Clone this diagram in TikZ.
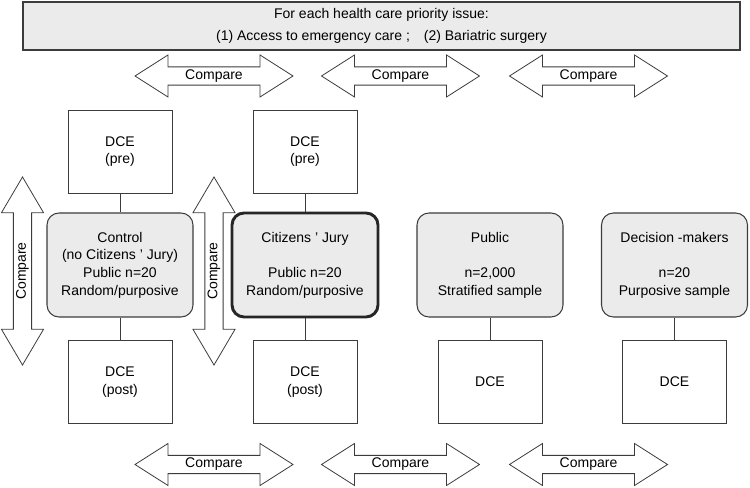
\documentclass[tikz,border=0pt]{standalone}
\usepackage{fontspec}
\setmainfont{Liberation Sans}
\usetikzlibrary{shapes.arrows}
\definecolor{linegray}{RGB}{60,60,60}
\definecolor{boxgray}{RGB}{235,235,235}
\begin{document}
\begin{tikzpicture}[x=0.75pt,y=0.75pt,yscale=-1,xscale=1,
  every node/.style={font=\fontsize{10.5}{13.2}\selectfont, align=center},
  dcebox/.style={draw=linegray, line width=0.7pt, fill=white, minimum width=78pt, minimum height=62.25pt, inner sep=0pt},
  groupbox/.style={draw=linegray, line width=0.8pt, fill=boxgray, rounded corners=9pt, minimum width=109.5pt, minimum height=78pt, inner sep=0pt},
  cmparrow/.style={shape=double arrow, draw=linegray, line width=0.6pt, fill=white, minimum height=118.5pt, minimum width=31.5pt, double arrow head extend=7.875pt, double arrow tip angle=65, inner sep=1pt},
  conn/.style={draw=linegray, line width=0.7pt}]
\useasboundingbox (0,0) rectangle (750,488);

% header
\node [draw=linegray, line width=0.8pt, fill=boxgray, minimum width=537.75pt, minimum height=36pt, inner sep=0pt, font=\fontsize{10.5}{16}\selectfont] (issue) at (381.5,26) {For each health care priority issue:\\(1) Access to emergency care ;\quad(2) Bariatric surgery};

% compare arrows, top and bottom
\node [cmparrow] (cmpt1) at (214,76) {Compare};
\node [cmparrow] (cmpt2) at (400.5,76) {Compare};
\node [cmparrow] (cmpt3) at (588.5,76) {Compare};
\node [cmparrow] (cmpb1) at (214,464.5) {Compare};
\node [cmparrow] (cmpb2) at (400.5,464.5) {Compare};
\node [cmparrow] (cmpb3) at (588.5,464.5) {Compare};

% compare arrows, vertical
\node [cmparrow, rotate=90, minimum height=141pt, double arrow tip angle=61] (cmpv1) at (22.5,271) {Compare};
\node [cmparrow, rotate=90, minimum height=141pt, double arrow tip angle=61] (cmpv2) at (214,271) {Compare};

% groups
\node [groupbox] (control) at (120,265) {Control\\(no Citizens ' Jury)\\Public n=20\\Random/purposive};
\node [groupbox, draw=black!85, line width=2.2pt] (jury) at (305,265) {Citizens ' Jury\\[13.2pt]Public n=20\\Random/purposive};
\node [groupbox] (public) at (490,265) {Public\\[13.2pt]n=2,000\\Stratified sample};
\node [groupbox] (dm) at (674.5,265) {Decision -makers\\[13.2pt]n=20\\Purposive sample};

% DCE boxes
\node [dcebox] (prectl) at (120,151.5) {DCE\\(pre)};
\node [dcebox] (prejury) at (305,151.5) {DCE\\(pre)};
\node [dcebox] (postctl) at (120,382) {DCE\\(post)};
\node [dcebox] (postjury) at (305,382) {DCE\\(post)};
\node [dcebox] (dcepub) at (490,382) {DCE};
\node [dcebox] (dcedm) at (674.5,382) {DCE};

% links
\draw [conn] (prectl) -- (control);
\draw [conn] (control) -- (postctl);
\draw [conn] (prejury) -- (jury);
\draw [conn] (jury) -- (postjury);
\draw [conn] (public) -- (dcepub);
\draw [conn] (dm) -- (dcedm);

\end{tikzpicture}
\end{document}
